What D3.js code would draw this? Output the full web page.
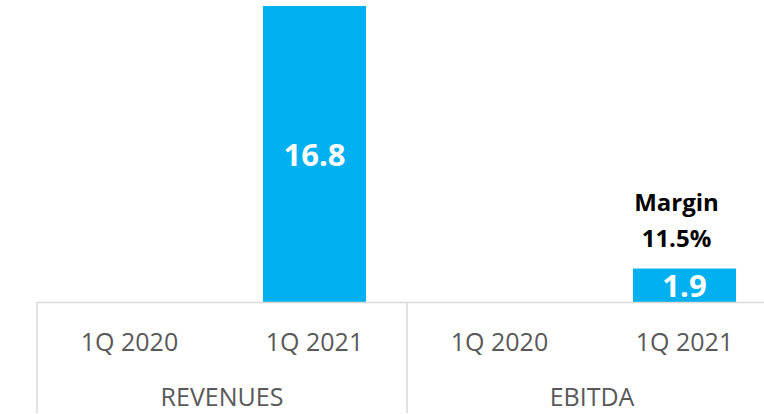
<!doctype html>
<html>
<head>
	<meta charset="utf-8">
	<script src="https://d3js.org/d3.v7.min.js"></script>
	<style>
	body { margin: 0; background: #fff; }
	svg text { font-family: "Open Sans", "Noto Sans", sans-serif; }
	</style>
</head>
<body>
	<script>

	// chart data
	var groups = ["REVENUES", "EBITDA"];
	var periods = ["1Q 2020", "1Q 2021"];
	var revenues = [null, 16.8];
	var ebitda = [null, 1.9];
	var marginLabel = ["Margin", "11.5%"];

	var series = { "REVENUES": revenues, "EBITDA": ebitda };

	var width = 764, height = 414;
	var axisY = 302;

	var svg = d3.select("body").append("svg")
		.attr("width", width)
		.attr("height", height);

	// outer scale for the groups, inner scale for periods
	var x0 = d3.scaleBand().domain(groups).range([37, 777]);
	var x1 = d3.scaleBand().domain(periods).range([0, x0.bandwidth()]).paddingInner(0.443).paddingOuter(0.2215);
	var y = d3.scaleLinear().domain([0, 16.8]).range([axisY, 6]);

	var blue = "#00b0f0";
	var grey = "#d9d9d9";

	// bars
	groups.forEach(function(g) {
		var vals = series[g];
		var gEl = svg.append("g").attr("transform", "translate(" + x0(g) + ",0)");
		periods.forEach(function(p, i) {
			if (vals[i] == null) return;
			gEl.append("rect")
				.attr("x", x1(p))
				.attr("y", y(vals[i]))
				.attr("width", x1.bandwidth())
				.attr("height", y(0) - y(vals[i]))
				.attr("fill", blue);
			gEl.append("text")
				.attr("x", x1(p) + x1.bandwidth() / 2)
				.attr("y", y(vals[i] / 2) + 12)
				.attr("text-anchor", "middle")
				.attr("font-size", 31)
				.attr("font-weight", "bold")
				.attr("fill", "#fff")
				.text(vals[i].toFixed(1));
		});
	});

	// margin annotation above the EBITDA bar (sits a bit left of the bar centre)
	var mx = x0("EBITDA") + x1("1Q 2021") + x1.bandwidth() / 2 - 8;
	var mTop = y(ebitda[1]);
	svg.append("text")
		.attr("x", mx).attr("y", mTop - 58)
		.attr("text-anchor", "middle")
		.attr("font-size", 24).attr("font-weight", "bold").attr("fill", "#000")
		.text(marginLabel[0]);
	svg.append("text")
		.attr("x", mx).attr("y", mTop - 22)
		.attr("text-anchor", "middle")
		.attr("font-size", 24).attr("font-weight", "bold").attr("fill", "#000")
		.text(marginLabel[1]);

	// axis line and group separators
	svg.append("line")
		.attr("x1", x0.range()[0]).attr("x2", x0.range()[1])
		.attr("y1", axisY + 0.5).attr("y2", axisY + 0.5)
		.attr("stroke", grey).attr("stroke-width", 1.5);

	var seps = groups.map(function(g) { return x0(g); }).concat([x0.range()[1]]);
	svg.selectAll(".sep").data(seps).enter().append("line")
		.attr("class", "sep")
		.attr("x1", function(d) { return d; }).attr("x2", function(d) { return d; })
		.attr("y1", axisY).attr("y2", 413)
		.attr("stroke", grey).attr("stroke-width", 1.5);

	// period labels
	groups.forEach(function(g) {
		periods.forEach(function(p) {
			svg.append("text")
				.attr("x", x0(g) + x1(p) + x1.bandwidth() / 2)
				.attr("y", 351)
				.attr("text-anchor", "middle")
				.attr("font-size", 25)
				.attr("fill", "#595959")
				.text(p);
		});
		svg.append("text")
			.attr("x", x0(g) + x0.bandwidth() / 2)
			.attr("y", 406)
			.attr("text-anchor", "middle")
			.attr("font-size", 25)
			.attr("fill", "#595959")
			.text(g);
	});

	</script>
</body>
</html>
